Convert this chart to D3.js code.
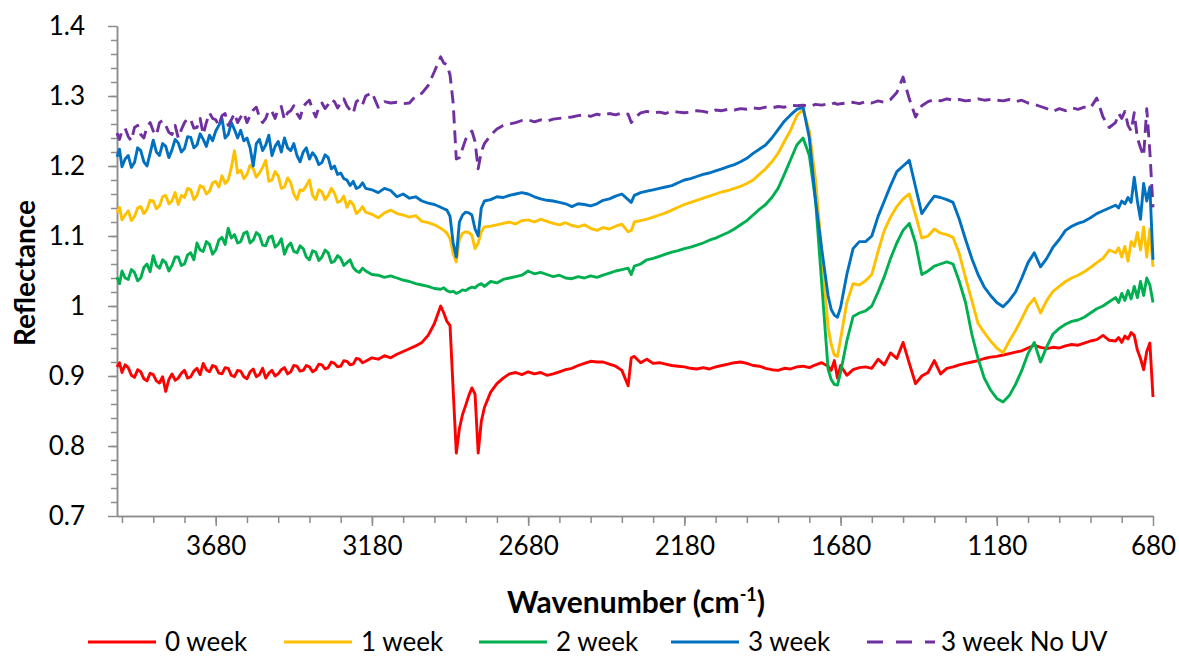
<!DOCTYPE html>
<html>
<head>
<meta charset="utf-8">
<script src="https://cdn.jsdelivr.net/npm/d3@7"></script>
<style>
    body { margin:0; background:#fff; }
    svg text { font-family: Lato, "Open Sans", sans-serif; fill:#000; }
</style>
</head>
<body>
<svg id="chart" width="1179" height="657"></svg>
<script>
//DATA
// wavenumber (cm-1) sample positions - 20 per line in the noisy high end, 10 per line after
const wavenumbers = [
    3996, 3988, 3980, 3970, 3960, 3950, 3940, 3930, 3920, 3910, 3900, 3890, 3880, 3870, 3860, 3850, 3840, 3830, 3820, 3810,
    3800, 3790, 3780, 3770, 3760, 3750, 3740, 3730, 3720, 3710, 3700, 3690, 3680, 3670, 3660, 3650, 3640, 3630, 3620, 3610,
    3600, 3590, 3580, 3570, 3560, 3550, 3540, 3530, 3520, 3510, 3500, 3490, 3480, 3470, 3460, 3450, 3440, 3430, 3420, 3410,
    3400, 3390, 3380, 3370, 3360, 3350, 3340, 3330, 3320, 3310, 3300, 3290, 3280, 3270, 3260, 3250, 3240, 3230, 3220, 3210,
    3200, 3180, 3160, 3140, 3120, 3100, 3080, 3060, 3040, 3020,
    3000, 2980, 2960, 2950, 2940, 2930, 2920, 2910, 2900, 2890,
    2880, 2870, 2860, 2850, 2840, 2830, 2820, 2800, 2780, 2760,
    2740, 2720, 2700, 2680, 2660, 2640, 2620, 2600, 2580, 2560,
    2540, 2520, 2500, 2480, 2460, 2440, 2420, 2400, 2380, 2360,
    2350, 2340, 2320, 2300, 2280, 2260, 2240, 2220, 2200, 2180,
    2160, 2140, 2120, 2100, 2080, 2060, 2040, 2020, 2000, 1980,
    1960, 1940, 1920, 1900, 1880, 1860, 1840, 1820, 1800, 1780,
    1760, 1740, 1720, 1710, 1700, 1690, 1680, 1660, 1640, 1620,
    1600, 1580, 1560, 1540, 1520, 1500, 1480, 1460, 1440, 1420,
    1400, 1380, 1360, 1340, 1320, 1300, 1280, 1260, 1240, 1220,
    1200, 1180, 1160, 1140, 1120, 1100, 1080, 1060, 1040, 1020,
    1000, 980, 960, 940, 920, 900, 880, 860, 840, 820,
    800, 790, 780, 770, 760, 750, 740, 730, 720, 710,
    700, 690, 680
];

const week0 = [
    0.913, 0.919, 0.905, 0.916, 0.912, 0.901, 0.898, 0.909, 0.906, 0.896, 0.893, 0.904, 0.902, 0.893, 0.890, 0.899, 0.878, 0.895, 0.903, 0.894,
    0.897, 0.904, 0.908, 0.897, 0.899, 0.907, 0.911, 0.902, 0.918, 0.909, 0.906, 0.915, 0.913, 0.904, 0.903, 0.912, 0.911, 0.901, 0.899, 0.908,
    0.907, 0.899, 0.896, 0.906, 0.910, 0.899, 0.902, 0.911, 0.897, 0.904, 0.908, 0.900, 0.903, 0.909, 0.912, 0.903, 0.906, 0.915, 0.914, 0.907,
    0.908, 0.915, 0.913, 0.906, 0.909, 0.917, 0.916, 0.910, 0.912, 0.920, 0.918, 0.913, 0.914, 0.922, 0.921, 0.916, 0.917, 0.925, 0.924, 0.919,
    0.921, 0.926, 0.924, 0.929, 0.926, 0.931, 0.935, 0.939, 0.943, 0.948,
    0.958, 0.975, 1.000, 0.990, 0.978, 0.972, 0.880, 0.790, 0.825, 0.845,
    0.858, 0.872, 0.883, 0.874, 0.790, 0.835, 0.855, 0.877, 0.889, 0.897,
    0.903, 0.905, 0.902, 0.906, 0.903, 0.905, 0.901, 0.903, 0.906, 0.909,
    0.911, 0.915, 0.918, 0.921, 0.920, 0.920, 0.917, 0.914, 0.908, 0.886,
    0.926, 0.928, 0.919, 0.924, 0.918, 0.919, 0.917, 0.915, 0.914, 0.913,
    0.911, 0.910, 0.912, 0.910, 0.913, 0.915, 0.917, 0.919, 0.920, 0.918,
    0.915, 0.914, 0.911, 0.909, 0.908, 0.911, 0.910, 0.913, 0.914, 0.912,
    0.916, 0.919, 0.914, 0.908, 0.922, 0.897, 0.915, 0.901, 0.909, 0.912,
    0.913, 0.911, 0.924, 0.916, 0.933, 0.925, 0.948, 0.918, 0.889, 0.900,
    0.905, 0.922, 0.903, 0.911, 0.913, 0.916, 0.918, 0.920, 0.922, 0.925,
    0.927, 0.928, 0.930, 0.932, 0.934, 0.936, 0.940, 0.944, 0.941, 0.939,
    0.941, 0.940, 0.943, 0.945, 0.944, 0.947, 0.950, 0.952, 0.958, 0.951,
    0.950, 0.955, 0.948, 0.957, 0.953, 0.962, 0.958, 0.937, 0.925, 0.909,
    0.935, 0.947, 0.870
];

const week1 = [
    1.133, 1.141, 1.123, 1.130, 1.136, 1.122, 1.128, 1.140, 1.142, 1.132, 1.138, 1.151, 1.150, 1.139, 1.143, 1.156, 1.158, 1.146, 1.150, 1.162,
    1.145, 1.158, 1.155, 1.168, 1.166, 1.152, 1.158, 1.172, 1.170, 1.160, 1.164, 1.176, 1.178, 1.170, 1.186, 1.175, 1.180, 1.198, 1.222, 1.190,
    1.194, 1.182, 1.188, 1.201, 1.196, 1.184, 1.190, 1.198, 1.208, 1.178, 1.180, 1.192, 1.186, 1.168, 1.170, 1.183, 1.176, 1.160, 1.152, 1.166,
    1.165, 1.172, 1.180, 1.158, 1.152, 1.166, 1.163, 1.152, 1.158, 1.168, 1.161, 1.148, 1.150, 1.157, 1.141, 1.150, 1.145, 1.132, 1.136, 1.142,
    1.134, 1.131, 1.126, 1.133, 1.137, 1.132, 1.130, 1.127, 1.129, 1.121,
    1.119, 1.116, 1.111, 1.108, 1.104, 1.096, 1.075, 1.063, 1.095, 1.104,
    1.106, 1.105, 1.101, 1.082, 1.090, 1.106, 1.113, 1.114, 1.116, 1.118,
    1.120, 1.117, 1.122, 1.123, 1.120, 1.124, 1.121, 1.118, 1.116, 1.119,
    1.115, 1.113, 1.116, 1.111, 1.108, 1.112, 1.110, 1.114, 1.117, 1.106,
    1.108, 1.120, 1.122, 1.124, 1.127, 1.130, 1.133, 1.137, 1.141, 1.145,
    1.148, 1.151, 1.154, 1.157, 1.160, 1.163, 1.165, 1.168, 1.171, 1.175,
    1.180, 1.188, 1.196, 1.206, 1.218, 1.235, 1.251, 1.272, 1.281, 1.250,
    1.180, 1.075, 0.970, 0.945, 0.930, 0.928, 0.953, 1.005, 1.032, 1.030,
    1.036, 1.045, 1.078, 1.108, 1.127, 1.142, 1.153, 1.160, 1.130, 1.097,
    1.100, 1.110, 1.104, 1.102, 1.098, 1.075, 1.040, 1.008, 0.975, 0.962,
    0.950, 0.940, 0.933, 0.950, 0.965, 0.982, 1.000, 1.011, 0.990, 1.008,
    1.021, 1.028, 1.035, 1.040, 1.044, 1.049, 1.055, 1.062, 1.068, 1.080,
    1.076, 1.083, 1.070, 1.085, 1.064, 1.092, 1.085, 1.105, 1.080, 1.113,
    1.070, 1.110, 1.056
];

const week2 = [
    1.041, 1.032, 1.050, 1.040, 1.038, 1.052, 1.048, 1.036, 1.040, 1.055, 1.060, 1.049, 1.072, 1.058, 1.054, 1.066, 1.062, 1.050, 1.058, 1.070,
    1.070, 1.058, 1.060, 1.073, 1.076, 1.066, 1.090, 1.080, 1.078, 1.092, 1.088, 1.074, 1.080, 1.094, 1.098, 1.088, 1.111, 1.097, 1.102, 1.090,
    1.092, 1.104, 1.106, 1.090, 1.094, 1.105, 1.101, 1.087, 1.086, 1.098, 1.100, 1.084, 1.088, 1.096, 1.074, 1.085, 1.090, 1.078, 1.076, 1.086,
    1.082, 1.070, 1.066, 1.079, 1.077, 1.065, 1.070, 1.080, 1.076, 1.062, 1.064, 1.072, 1.068, 1.058, 1.062, 1.066, 1.055, 1.050, 1.048, 1.054,
    1.050, 1.045, 1.044, 1.041, 1.043, 1.040, 1.037, 1.035, 1.032, 1.030,
    1.028, 1.025, 1.024, 1.026, 1.022, 1.020, 1.021, 1.018, 1.020, 1.023,
    1.022, 1.025, 1.027, 1.026, 1.030, 1.032, 1.028, 1.035, 1.033, 1.038,
    1.040, 1.042, 1.044, 1.050, 1.046, 1.048, 1.045, 1.042, 1.044, 1.040,
    1.039, 1.042, 1.040, 1.043, 1.041, 1.044, 1.047, 1.050, 1.052, 1.054,
    1.045, 1.057, 1.060, 1.066, 1.068, 1.071, 1.074, 1.077, 1.079, 1.082,
    1.084, 1.087, 1.090, 1.094, 1.097, 1.101, 1.105, 1.110, 1.116, 1.122,
    1.130, 1.138, 1.145, 1.155, 1.168, 1.188, 1.209, 1.230, 1.240, 1.215,
    1.150, 1.030, 0.910, 0.895, 0.888, 0.887, 0.905, 0.950, 0.985, 0.990,
    0.993, 1.000, 1.020, 1.042, 1.068, 1.090, 1.108, 1.118, 1.090, 1.045,
    1.050, 1.057, 1.060, 1.063, 1.060, 1.035, 1.005, 0.960, 0.925, 0.897,
    0.880, 0.868, 0.863, 0.872, 0.888, 0.908, 0.932, 0.948, 0.920, 0.942,
    0.960, 0.968, 0.974, 0.978, 0.980, 0.984, 0.990, 0.996, 1.000, 1.006,
    1.012, 1.005, 1.018, 1.008, 1.022, 1.010, 1.028, 1.012, 1.035, 1.015,
    1.040, 1.030, 1.005
];

const week3 = [
    1.213, 1.224, 1.199, 1.210, 1.215, 1.198, 1.205, 1.226, 1.222, 1.206, 1.200, 1.218, 1.237, 1.220, 1.215, 1.232, 1.228, 1.212, 1.223, 1.238,
    1.233, 1.220, 1.225, 1.242, 1.241, 1.226, 1.230, 1.246, 1.238, 1.228, 1.244, 1.236, 1.250, 1.258, 1.268, 1.240, 1.245, 1.262, 1.252, 1.240,
    1.251, 1.236, 1.240, 1.226, 1.200, 1.232, 1.238, 1.222, 1.230, 1.244, 1.215, 1.228, 1.235, 1.220, 1.240, 1.226, 1.222, 1.232, 1.215, 1.206,
    1.220, 1.226, 1.210, 1.219, 1.213, 1.202, 1.205, 1.216, 1.212, 1.196, 1.200, 1.188, 1.190, 1.182, 1.180, 1.172, 1.178, 1.168, 1.170, 1.176,
    1.168, 1.166, 1.162, 1.168, 1.165, 1.156, 1.160, 1.154, 1.156, 1.150,
    1.147, 1.145, 1.141, 1.139, 1.137, 1.128, 1.090, 1.070, 1.120, 1.130,
    1.134, 1.133, 1.130, 1.110, 1.100, 1.140, 1.150, 1.152, 1.156, 1.155,
    1.158, 1.160, 1.162, 1.160, 1.156, 1.153, 1.151, 1.150, 1.148, 1.146,
    1.142, 1.146, 1.145, 1.143, 1.146, 1.151, 1.153, 1.157, 1.160, 1.152,
    1.148, 1.158, 1.162, 1.164, 1.166, 1.168, 1.170, 1.172, 1.176, 1.180,
    1.182, 1.185, 1.188, 1.190, 1.193, 1.196, 1.199, 1.202, 1.206, 1.211,
    1.218, 1.224, 1.230, 1.240, 1.252, 1.264, 1.273, 1.281, 1.284, 1.240,
    1.150, 1.080, 1.015, 0.995, 0.987, 0.984, 0.998, 1.045, 1.082, 1.092,
    1.092, 1.100, 1.128, 1.150, 1.172, 1.192, 1.200, 1.208, 1.170, 1.132,
    1.145, 1.157, 1.155, 1.152, 1.148, 1.124, 1.095, 1.068, 1.045, 1.027,
    1.015, 1.005, 0.999, 1.008, 1.020, 1.040, 1.062, 1.076, 1.056, 1.068,
    1.084, 1.095, 1.108, 1.114, 1.118, 1.121, 1.126, 1.132, 1.136, 1.140,
    1.144, 1.140, 1.150, 1.146, 1.155, 1.148, 1.184, 1.150, 1.124, 1.175,
    1.150, 1.170, 1.066
];

const week3NoUV = [
    1.247, 1.238, 1.250, 1.254, 1.242, 1.236, 1.255, 1.258, 1.245, 1.240, 1.256, 1.262, 1.250, 1.244, 1.262, 1.265, 1.258, 1.248, 1.245, 1.258,
    1.240, 1.252, 1.262, 1.268, 1.266, 1.254, 1.255, 1.268, 1.245, 1.262, 1.276, 1.268, 1.266, 1.258, 1.272, 1.275, 1.258, 1.266, 1.275, 1.262,
    1.270, 1.276, 1.262, 1.272, 1.280, 1.284, 1.270, 1.262, 1.268, 1.280, 1.278, 1.268, 1.282, 1.285, 1.266, 1.276, 1.279, 1.286, 1.275, 1.268,
    1.285, 1.290, 1.294, 1.280, 1.270, 1.284, 1.290, 1.282, 1.288, 1.295, 1.292, 1.283, 1.290, 1.296, 1.286, 1.280, 1.275, 1.292, 1.295, 1.288,
    1.300, 1.305, 1.284, 1.292, 1.290, 1.291, 1.289, 1.290, 1.300, 1.304,
    1.315, 1.335, 1.356, 1.347, 1.345, 1.330, 1.290, 1.210, 1.212, 1.225,
    1.238, 1.245, 1.250, 1.235, 1.196, 1.220, 1.232, 1.244, 1.253, 1.258,
    1.260, 1.262, 1.265, 1.266, 1.263, 1.266, 1.264, 1.267, 1.268, 1.269,
    1.270, 1.272, 1.273, 1.271, 1.274, 1.272, 1.275, 1.273, 1.276, 1.274,
    1.262, 1.268, 1.276, 1.278, 1.276, 1.277, 1.275, 1.278, 1.277, 1.276,
    1.277, 1.279, 1.278, 1.276, 1.280, 1.279, 1.281, 1.280, 1.282, 1.281,
    1.283, 1.282, 1.284, 1.283, 1.285, 1.284, 1.287, 1.286, 1.287, 1.285,
    1.288, 1.287, 1.289, 1.288, 1.290, 1.288, 1.289, 1.290, 1.291, 1.289,
    1.292, 1.290, 1.293, 1.291, 1.295, 1.305, 1.327, 1.296, 1.270, 1.286,
    1.292, 1.295, 1.293, 1.296, 1.294, 1.295, 1.293, 1.294, 1.296, 1.294,
    1.295, 1.294, 1.293, 1.295, 1.292, 1.294, 1.290, 1.288, 1.285, 1.282,
    1.278, 1.282, 1.279, 1.283, 1.281, 1.284, 1.283, 1.297, 1.270, 1.255,
    1.262, 1.275, 1.268, 1.278, 1.258, 1.250, 1.276, 1.240, 1.226, 1.214,
    1.282, 1.220, 1.141
];

const seriesNames = ["0 week", "1 week", "2 week", "3 week", "3 week No UV"];
const seriesColours = ["#FF0000", "#FFC000", "#00B050", "#0070C0", "#7030A0"];
const yTickValues = [0.7, 0.8, 0.9, 1, 1.1, 1.2, 1.3, 1.4];
const xTickLabels = [3680, 3180, 2680, 2180, 1680, 1180, 680];

//SETTINGS
const plot = { left:117, right:1153, top:26, bottom:516 };
const AXIS_GREY = "#8c8c8c";
const TICK_FONT = 26;

const svg = d3.select("#chart");

//scales - x is reversed (high wavenumber on the left)
const x = d3.scaleLinear().domain([3996, 680]).range([plot.left, plot.right]);
const y = d3.scaleLinear().domain([0.7, 1.4]).range([plot.bottom, plot.top]);

const series = [week0, week1, week2, week3, week3NoUV].map((values, i) => ({
    key: seriesNames[i],
    colour: seriesColours[i],
    dashed: i === 4,
    points: wavenumbers.map((w, j) => ({ w, v: values[j] })).filter(d => d.v !== undefined)
}));

//axes
function styleAxis(g){
    g.select(".domain").attr("stroke", AXIS_GREY).attr("stroke-width", 1.5);
    g.selectAll(".tick line").attr("stroke", AXIS_GREY).attr("stroke-width", 1.5);
    g.selectAll(".tick text")
        .attr("font-size", TICK_FONT)
        .attr("font-family", "Lato, sans-serif")
        .attr("fill", "#000");
}

//y minor ticks every 0.02
const yMinor = d3.range(0.72, 1.4, 0.02).map(d => +d.toFixed(2));
svg.append("g")
    .attr("transform", `translate(${plot.left},0)`)
    .call(d3.axisLeft(y).tickValues(yMinor).tickSize(6).tickSizeOuter(0).tickFormat(""))
    .call(styleAxis);
svg.append("g")
    .attr("transform", `translate(${plot.left},0)`)
    .call(d3.axisLeft(y).tickValues(yTickValues).tickSize(9).tickSizeOuter(0).tickPadding(23)
        .tickFormat(d => d3.format("")(d)))
    .call(styleAxis);

//x minor ticks every 100
const xMinor = d3.range(780, 3981, 100);
svg.append("g")
    .attr("transform", `translate(0,${plot.bottom})`)
    .call(d3.axisBottom(x).tickValues(xMinor).tickSize(7).tickSizeOuter(0).tickFormat(""))
    .call(styleAxis);
svg.append("g")
    .attr("transform", `translate(0,${plot.bottom})`)
    .call(d3.axisBottom(x).tickValues(xTickLabels).tickSize(10).tickSizeOuter(0).tickPadding(11)
        .tickFormat(d3.format("d")))
    .call(styleAxis);

//lines
const line = d3.line()
    .x(d => x(d.w))
    .y(d => y(d.v));

svg.append("g").attr("class", "series")
    .selectAll("path")
    .data(series)
    .join("path")
        .attr("d", d => line(d.points))
        .attr("fill", "none")
        .attr("stroke", d => d.colour)
        .attr("stroke-width", 2.9)
        .attr("stroke-linejoin", "round")
        .attr("stroke-dasharray", d => d.dashed ? "13,7" : null);

//axis titles
const xTitle = svg.append("text")
    .attr("x", 636)
    .attr("y", 613)
    .attr("text-anchor", "middle")
    .attr("font-size", 30)
    .attr("font-weight", "bold");
xTitle.append("tspan").text("Wavenumber (cm");
xTitle.append("tspan").attr("font-size", 18).attr("dy", -12).text("-1");
xTitle.append("tspan").attr("dy", 12).text(")");

svg.append("text")
    .attr("transform", `translate(35,${(plot.top + plot.bottom) / 2 + 2}) rotate(-90)`)
    .attr("text-anchor", "middle")
    .attr("font-size", 28)
    .attr("font-weight", "bold")
    .text("Reflectance");

//legend
const legendLineX = [88, 284, 479, 671, 867];
const legendY = 642;
const legendG = svg.append("g").attr("class", "legend")
    .selectAll("g")
    .data(series)
    .join("g")
        .attr("transform", (d, i) => `translate(${legendLineX[i]},${legendY})`);

legendG.append("line")
    .attr("x1", 0).attr("x2", 68)
    .attr("stroke", d => d.colour)
    .attr("stroke-width", 2.9)
    .attr("stroke-dasharray", d => d.dashed ? "16,13" : null);

legendG.append("text")
    .attr("x", d => d.dashed ? 74 : 77)
    .attr("dy", "0.35em")
    .attr("font-size", TICK_FONT)
    .text(d => d.key);
</script>
</body>
</html>
